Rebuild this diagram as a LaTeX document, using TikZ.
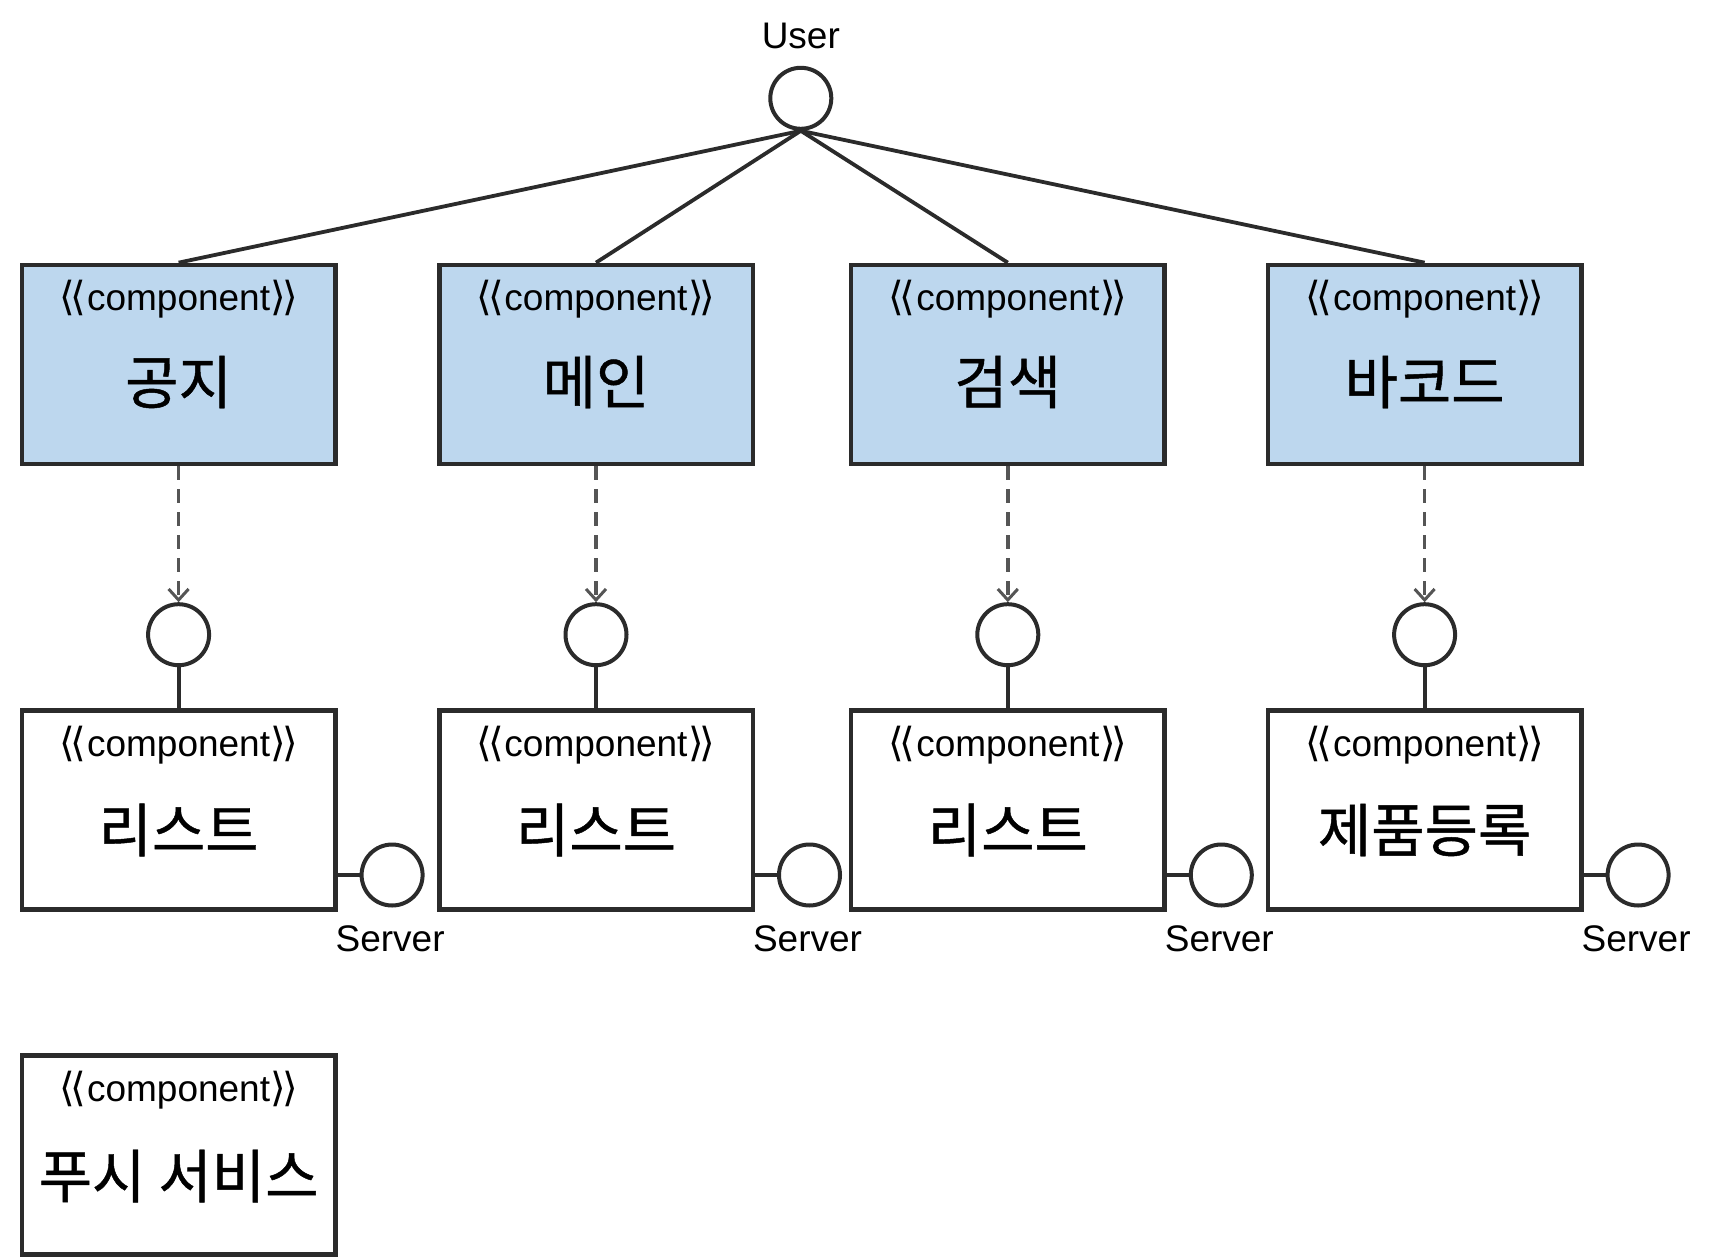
\documentclass[tikz,border=0pt]{standalone}
\usepackage{fontspec}
\setmainfont{Noto Sans CJK KR}
\newfontfamily\kofont{Noto Sans CJK KR}[FakeBold=0.8]
\newfontfamily\latinfont{Liberation Sans}
\newfontfamily\brfont{DejaVu Sans}
\usetikzlibrary{arrows.meta}
\definecolor{edge}{HTML}{2B2B2B}
\definecolor{compblue}{HTML}{BDD7EE}
\definecolor{dashgray}{HTML}{555555}
\tikzset{
  compbox/.style={draw=edge, line width=4.5pt, minimum width=313.5pt, minimum height=199pt, inner sep=0pt},
  stereo/.style={font=\latinfont\fontsize{37}{37}\selectfont, inner sep=0pt, anchor=base},
  title/.style={font=\kofont\fontsize{58}{58}\selectfont, inner sep=0pt},
  iface/.style={circle, draw=edge, line width=4pt, minimum size=61pt, inner sep=0pt},
  conn/.style={draw=edge, line width=3.8pt},
  dep/.style={draw=dashgray, line width=3.4pt, dash pattern=on 14pt off 9pt, -{Straight Barb[length=11pt,width=20pt,line width=3pt]}},
  lbl/.style={font=\latinfont\fontsize{37}{37}\selectfont, inner sep=0pt}
}
\newcommand{\stereotxt}{{\brfont \fontsize{40}{40}\selectfont ⟨\kern-0.1em⟨\kern0.02em}component{\brfont \fontsize{40}{40}\selectfont \kern0.02em⟩\kern-0.1em⟩}}
\begin{document}
\begin{tikzpicture}[x=1pt,y=-1pt]
\useasboundingbox (0,0) rectangle (1713,1257);
% user
\node[iface] (user) at (800.8,98.3) {};
\node[lbl] (userlbl) at (800.8,36) {User};
% top boxes
\foreach \i/\x/\t in {1/178.6/공지, 2/596/메인, 3/1007.8/검색, 4/1424.6/바코드}{
  \node[compbox, fill=compblue] (top\i) at (\x,364.4) {};
  \node[stereo] (topst\i) at (\x,310) {\stereotxt};
  \node[title] (toptl\i) at (\x,382) {\t};
  \draw[conn] (user.south) -- (top\i.north);
  \node[iface] (if\i) at (\x,634.7) {};
  \draw[dep] (top\i.south) -- (if\i.north);
}
% bottom boxes
\foreach \i/\x/\t in {1/178.6/리스트, 2/596/리스트, 3/1007.8/리스트, 4/1424.6/제품등록}{
  \node[compbox, fill=white] (bot\i) at (\x,810) {};
  \node[stereo] (botst\i) at (\x,756) {\stereotxt};
  \node[title] (bottl\i) at (\x,830) {\t};
  \draw[conn] (if\i.south) -- (bot\i.north);
  \node[iface, anchor=west] (srv\i) at ([xshift=22pt]bot\i.east |- 0,875) {};
  \draw[conn] (bot\i.east |- srv\i.west) -- (srv\i.west);
  \node[lbl] (srvl\i) at ([xshift=-2pt]srv\i.south |- 0,938.5) {Server};
}
% push
\node[compbox, fill=white] (push) at (178.6,1155) {};
\node[stereo] (pushst) at (178.6,1101) {\stereotxt};
\node[title] (pushtl) at (178.6,1176) {푸시 서비스};
\end{tikzpicture}
\end{document}
